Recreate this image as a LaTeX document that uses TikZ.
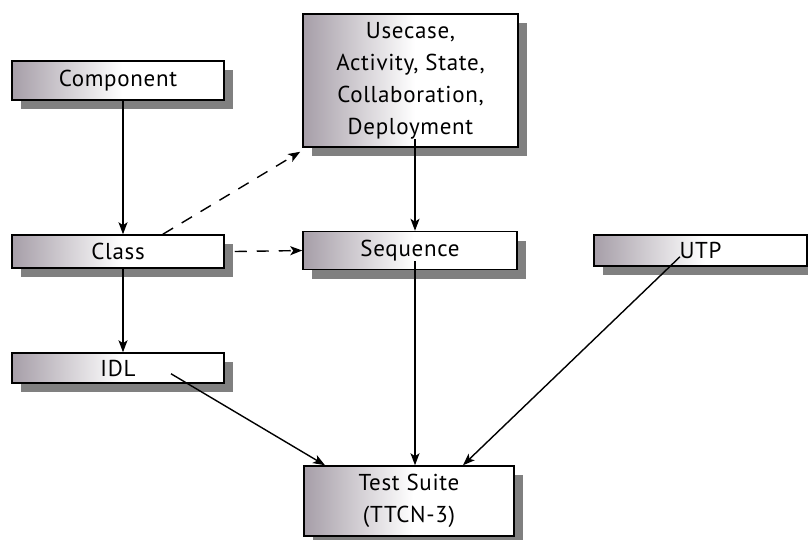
\documentclass[tikz,border=0pt]{standalone}
\usepackage{fontspec}
\setmainfont{PT Sans}[LetterSpace=3]
\usetikzlibrary{arrows.meta,shadows,calc}
\definecolor{shadegray}{RGB}{166,158,168}
\definecolor{shadowgray}{RGB}{128,128,128}
\pgfdeclarehorizontalshading{boxshade}{100bp}{color(0bp)=(shadegray); color(25bp)=(shadegray); color(51bp)=(white); color(100bp)=(white)}
\begin{document}
\begin{tikzpicture}[x=1pt,y=-1pt,
  box/.style={draw=black, line width=1.5pt, shading=boxshade, inner sep=0pt,
    font=\fontsize{23}{32}\selectfont, align=center,
    drop shadow={shadow xshift=9pt, shadow yshift=-9pt, fill=shadowgray, opacity=1}},
  arr/.style={line width=1.4pt, -{Stealth[length=12pt,width=9pt,inset=3pt]}},
  dsh/.style={arr, dash pattern=on 12pt off 10pt}]
\useasboundingbox (0,0) rectangle (808,539);
\node[box, minimum width=212pt, minimum height=39pt] (comp) at (118,80.5) {Component};
\node[box, minimum width=215pt, minimum height=133pt] (uc) at (410.5,80.5) {Usecase,\\Activity, State,\\Collaboration,\\Deployment};
\node[box, minimum width=212pt, minimum height=33pt] (class) at (118,251.5) {Class};
\node[box, minimum width=214pt, minimum height=38pt] (seq) at (410,250.5) {Sequence};
\node[box, minimum width=213pt, minimum height=31pt] (utp) at (700.5,250.5) {UTP};
\node[box, minimum width=212pt, minimum height=30pt] (idl) at (118,368) {IDL};
\node[box, minimum width=210pt, minimum height=70pt] (ts) at (409,501) {Test Suite\\(TTCN-3)};
\draw[arr] (comp.south -| 123,0) -- (class.north -| 123,0);
\draw[arr] (class.south -| 123,0) -- (idl.north -| 123,0);
\draw[dsh] ($(class.north west)!0.71!(class.north east)$) -- ([shift={(-2,4)}]uc.south west);
\draw[dsh] ([xshift=10pt]class.east) -- (seq.west);
\draw[arr] ([yshift=9pt]uc.south -| 415,0) -- (seq.north -| 415,0);
\draw[arr] ([yshift=9pt]seq.south -| 415,0) -- (ts.north -| 415,0);
\draw[arr] ([yshift=10pt]utp.south -| 680,0) -- (ts.north -| 463,0);
\draw[arr] ([yshift=10pt]idl.south -| 171,0) -- (ts.north -| 325,0);
\end{tikzpicture}
\end{document}
